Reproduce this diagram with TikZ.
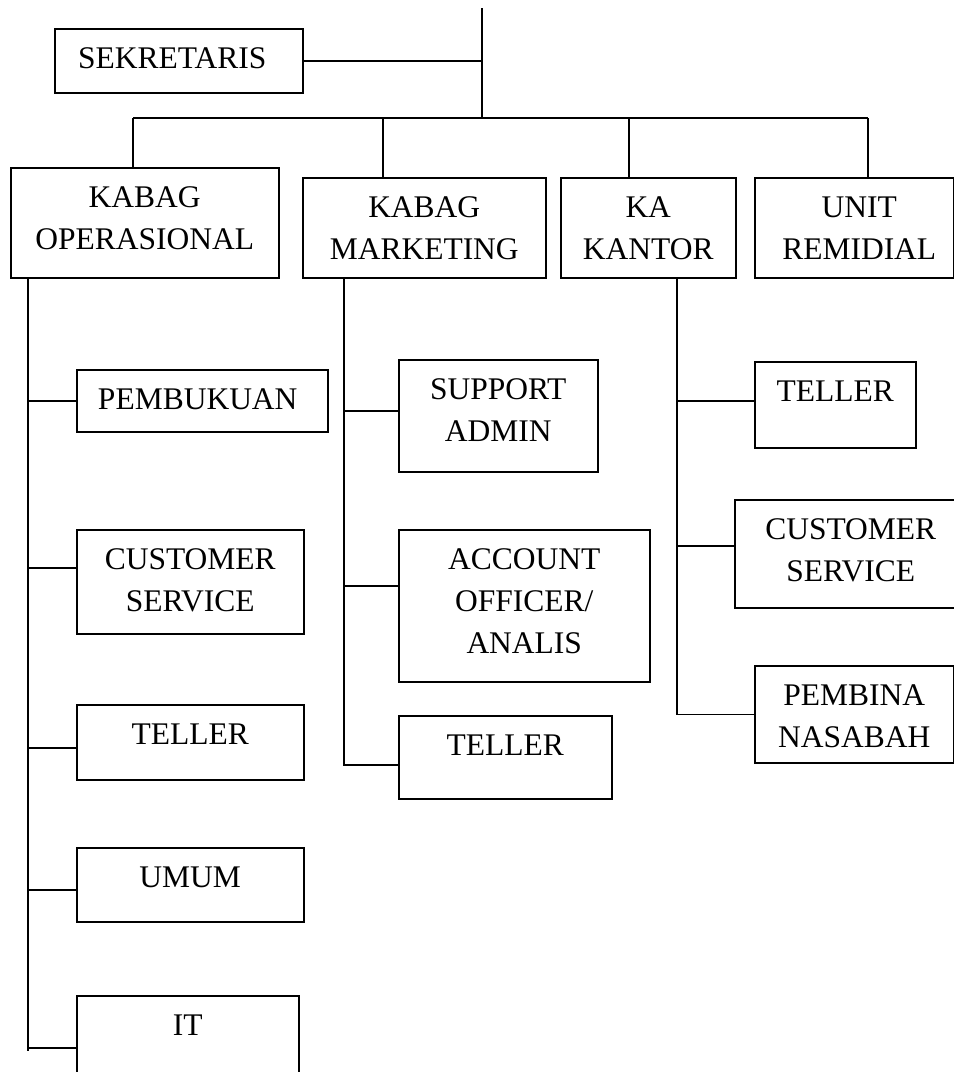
\documentclass[tikz,border=0pt]{standalone}
\usepackage{fontspec}
\setmainfont{Liberation Serif}
\begin{document}
\begin{tikzpicture}[x=1pt,y=-1pt,
  ln/.style={line width=1.5pt,black},
  bx/.style={draw,line width=1.5pt,inner sep=0pt,anchor=north west,
    text height=40pt,font=\fontsize{31.5}{42}\selectfont}]
\useasboundingbox (0,0) rectangle (954,1072);
\clip (0,0) rectangle (954,1072);
% top level
\node[bx,minimum width=248pt,text depth=24pt] (sek) at (54,28)
  {\begin{tabular}[t]{@{}c@{\hspace*{13pt}}}SEKRETARIS\end{tabular}};
\node[bx,minimum width=268pt,text depth=70pt] (op) at (10,167)
  {\begin{tabular}[t]{@{}c@{}}KABAG\\OPERASIONAL\end{tabular}};
\node[bx,minimum width=243pt,text depth=60pt] (mkt) at (302,177)
  {\begin{tabular}[t]{@{}c@{}}KABAG\\MARKETING\end{tabular}};
\node[bx,minimum width=175pt,text depth=60pt] (kan) at (560,177)
  {\begin{tabular}[t]{@{}c@{}}KA\\KANTOR\end{tabular}};
\node[bx,minimum width=199pt,text depth=60pt] (rem) at (754,177)
  {\begin{tabular}[t]{@{\hspace*{10pt}}c@{}}UNIT\\REMIDIAL\end{tabular}};
% operasional column
\node[bx,minimum width=251pt,text depth=22pt] (pemb) at (76,369)
  {\begin{tabular}[t]{@{}c@{\hspace*{9pt}}}PEMBUKUAN\end{tabular}};
\node[bx,minimum width=227pt,text depth=64pt] (cs1) at (76,529)
  {\begin{tabular}[t]{@{}c@{}}CUSTOMER\\SERVICE\end{tabular}};
\node[bx,minimum width=227pt,text depth=35pt] (tel1) at (76,704)
  {\begin{tabular}[t]{@{}c@{}}TELLER\end{tabular}};
\node[bx,minimum width=227pt,text depth=34pt] (umum) at (76,847)
  {\begin{tabular}[t]{@{}c@{}}UMUM\end{tabular}};
\node[bx,minimum width=222pt,text depth=80pt] (it) at (76,995)
  {\begin{tabular}[t]{@{}c@{}}IT\end{tabular}};
% marketing column
\node[bx,minimum width=199pt,text depth=72pt] (sup) at (398,359)
  {\begin{tabular}[t]{@{}c@{}}SUPPORT\\ADMIN\end{tabular}};
\node[bx,minimum width=251pt,text depth=112pt] (acc) at (398,529)
  {\begin{tabular}[t]{@{}c@{}}ACCOUNT\\OFFICER/\\ANALIS\end{tabular}};
\node[bx,minimum width=213pt,text depth=43pt] (tel2) at (398,715)
  {\begin{tabular}[t]{@{}c@{}}TELLER\end{tabular}};
% kantor column
\node[bx,minimum width=161pt,text depth=46pt] (tel3) at (754,361)
  {\begin{tabular}[t]{@{}c@{}}TELLER\end{tabular}};
\node[bx,minimum width=232pt,text depth=68pt] (cs3) at (734,499)
  {\begin{tabular}[t]{@{}c@{}}CUSTOMER\\SERVICE\end{tabular}};
\node[bx,minimum width=199pt,text depth=57pt] (pemb2) at (754,665)
  {\begin{tabular}[t]{@{}c@{}}PEMBINA\\NASABAH\end{tabular}};
% connector coordinates
\coordinate (top) at (482,8);
\coordinate (hub) at (482,118);
\coordinate (dOp) at (133,118);
\coordinate (dMk) at (383,118);
\coordinate (dKa) at (629,118);
\coordinate (dRe) at (868,118);
\coordinate (opT) at (28,277);
\coordinate (opE) at (28,1051);
\coordinate (mkT) at (344,277);
\coordinate (knT) at (677,277);
% top connectors
\draw[ln] (top) -- (hub);
\draw[ln] (sek.east) -- (sek.east -| hub);
\draw[ln] (dOp) -- (dRe);
\draw[ln] (dOp) -- (dOp |- op.north);
\draw[ln] (dMk) -- (dMk |- mkt.north);
\draw[ln] (dKa) -- (dKa |- kan.north);
\draw[ln] (dRe) -- (dRe |- rem.north);
% operasional branches
\draw[ln] (opT) -- (opE);
\draw[ln] (pemb.west) -- (pemb.west -| opT);
\draw[ln] ([yshift=14pt]cs1.west) -- ([yshift=14pt]cs1.west -| opT);
\draw[ln] ([yshift=-5.5pt]tel1.west) -- ([yshift=-5.5pt]tel1.west -| opT);
\draw[ln] ([yshift=-5pt]umum.west) -- ([yshift=-5pt]umum.west -| opT);
\draw[ln] ([yshift=-53pt]it.north west) -- ([yshift=-53pt]it.north west -| opT);
% marketing branches
\draw[ln] (mkT) |- ([yshift=-7.5pt]tel2.west);
\draw[ln] ([yshift=5pt]sup.west) -- ([yshift=5pt]sup.west -| mkT);
\draw[ln] ([yshift=20pt]acc.west) -- ([yshift=20pt]acc.west -| mkT);
% kantor branches
\draw[ln] (knT) |- (pemb2.west);
\draw[ln] ([yshift=4pt]tel3.west) -- ([yshift=4pt]tel3.west -| knT);
\draw[ln] ([yshift=8pt]cs3.west) -- ([yshift=8pt]cs3.west -| knT);
\end{tikzpicture}
\end{document}
